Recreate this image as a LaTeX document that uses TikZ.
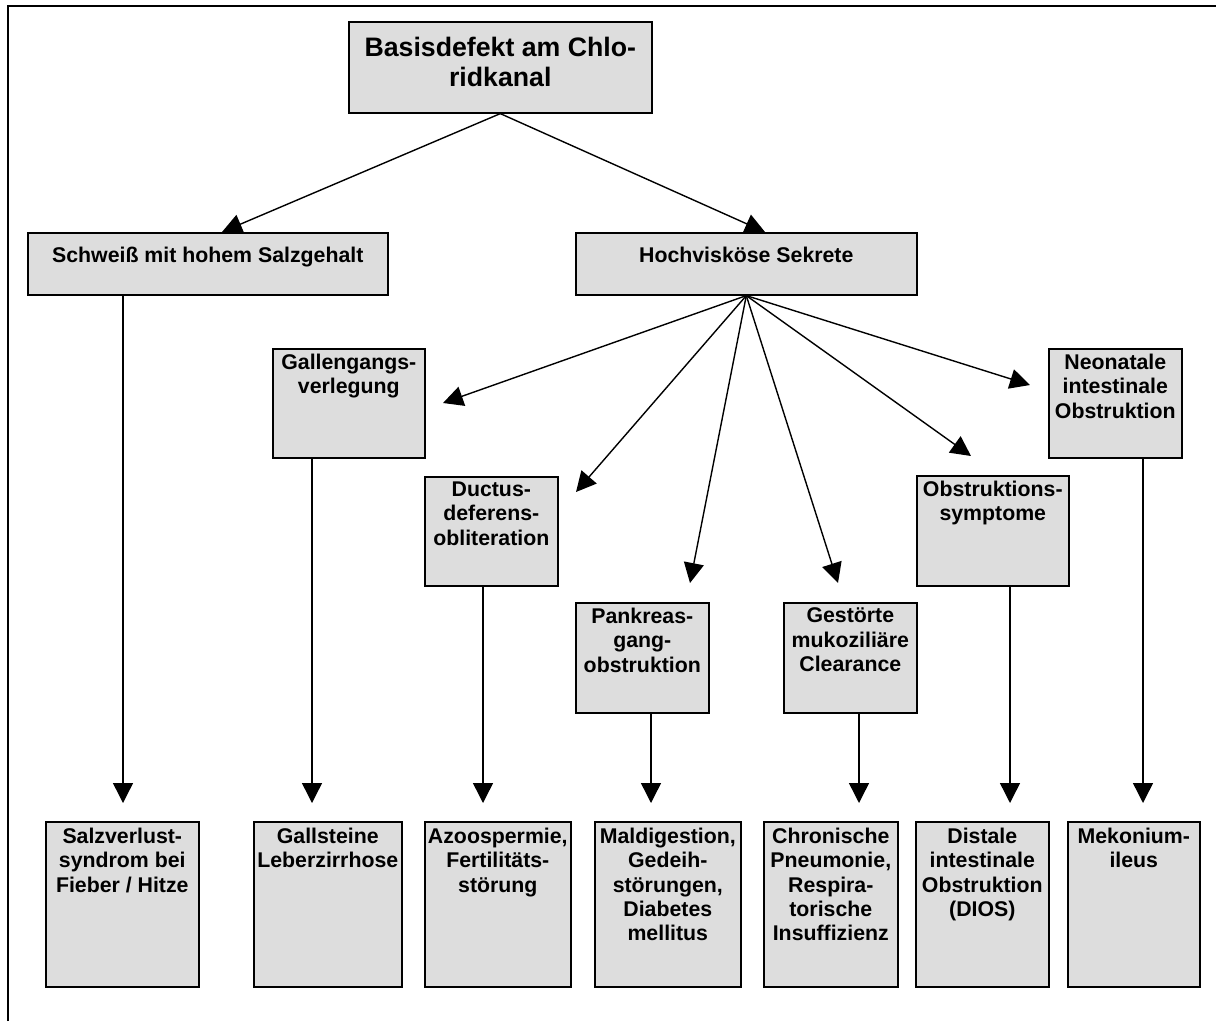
\documentclass[tikz,border=0pt]{standalone}
\usepackage{fontspec}
\setmainfont{Liberation Sans}
\usepackage{xcolor}
\usepackage{tikz}
\usetikzlibrary{arrows.meta, positioning}

\definecolor{kastengrau}{HTML}{DDDDDD}
% Text oben im Kasten: Breite, Hoehe, Abstand oben, Text
\newcommand{\feld}[4]{\parbox[c][#2pt][t]{#1pt}{\centering\vspace*{#3pt}#4}}

\begin{document}
\begin{tikzpicture}[x=1pt, y=-1pt,
    kasten/.style={draw, line width=1.6pt, fill=kastengrau, inner sep=0pt, anchor=north west,
      font=\bfseries\fontsize{21.3}{24.4}\selectfont},
    pfeil/.style={-{Triangle[length=20pt, width=20pt]}, line width=1.4pt}]
        \useasboundingbox (0,0) rectangle (1216,1021);
        \draw[line width=2pt] (8,1021) -- (8,6) -- (1216,6);

        % Basisdefekt
        \node[kasten, font=\bfseries\fontsize{26.7}{30}\selectfont] (basis) at (348,21)
            {\feld{303}{91}{15}{Basisdefekt am Chlo-\\ridkanal}};
        \node[kasten] (schweiss) at (27,232) {\feld{360}{62}{14.5}{Schweiß mit hohem Salzgehalt}};
        \node[kasten] (sekrete) at (575,232) {\feld{341}{62}{14.5}{Hochvisköse Sekrete}};

        % Folgen der Sekrete
        \node[kasten] (galle) at (272,348) {\feld{152}{109}{5}{Gallengangs-\\verlegung}};
        \node[kasten] (ductus) at (424,476) {\feld{133}{109}{5}{Ductus-\\deferens-\\obliteration}};
        \node[kasten] (pankreas) at (575,602) {\feld{133}{110}{5}{Pankreas-\\gang-\\obstruktion}};
        \node[kasten] (clearance) at (783,602) {\feld{133}{110}{5}{Gestörte\\mukoziliäre\\Clearance}};
        \node[kasten] (obstr) at (916,475) {\feld{152}{110}{5}{Obstruktions-\\symptome}};
        \node[kasten] (neonat) at (1048,348) {\feld{133}{109}{5}{Neonatale\\intestinale\\Obstruktion}};

        % Krankheitsbilder
        \node[kasten] (salz) at (45,821) {\feld{153}{165}{6}{Salzverlust-\\syndrom bei\\Fieber / Hitze}};
        \node[kasten] (steine) at (253,821) {\feld{148}{165}{6}{Gallsteine\\Leberzirrhose}};
        \node[kasten] (azoo) at (424,821) {\feld{146}{165}{6}{Azoospermie,\\Fertilitäts-\\störung}};
        \node[kasten] (maldig) at (594,821) {\feld{146}{165}{6}{Maldigestion,\\Gedeih-\\störungen,\\Diabetes\\mellitus}};
        \node[kasten] (pneu) at (763,821) {\feld{134}{165}{6}{Chronische\\Pneumonie,\\Respira-\\torische\\Insuffizienz}};
        \node[kasten] (dios) at (915,821) {\feld{133}{165}{6}{Distale\\intestinale\\Obstruktion\\(DIOS)}};
        \node[kasten] (mekon) at (1067,821) {\feld{132}{165}{6}{Mekonium-\\ileus}};

        % Pfeilspitzen
        \coordinate (zSchweiss) at (222,232);
        \coordinate (zSekrete) at (765,232);
        \coordinate (zGalle) at (443,403);
        \coordinate (zDuctus) at (576,492);
        \coordinate (zPankreas) at (690,583);
        \coordinate (zClearance) at (838,583);
        \coordinate (zObstr) at (971,456);
        \coordinate (zNeonat) at (1030,385);
        \coordinate (u1) at (123,803);
        \coordinate (u2) at (312,803);
        \coordinate (u3) at (483,803);
        \coordinate (u4) at (651,803);
        \coordinate (u5) at (859,803);
        \coordinate (u6) at (1010,803);
        \coordinate (u7) at (1143,803);

        \draw[pfeil] (basis.south) -- (zSchweiss);
        \draw[pfeil] (basis.south) -- (zSekrete);
        \foreach \z in {zGalle, zDuctus, zPankreas, zClearance, zObstr, zNeonat}
            \draw[pfeil] (sekrete.south) -- (\z);

        \draw[pfeil] (u1 |- schweiss.south) -- (u1);
        \draw[pfeil] (u2 |- galle.south) -- (u2);
        \draw[pfeil] (u3 |- ductus.south) -- (u3);
        \draw[pfeil] (u4 |- pankreas.south) -- (u4);
        \draw[pfeil] (u5 |- clearance.south) -- (u5);
        \draw[pfeil] (u6 |- obstr.south) -- (u6);
        \draw[pfeil] (u7 |- neonat.south) -- (u7);
    \end{tikzpicture}
\end{document}
